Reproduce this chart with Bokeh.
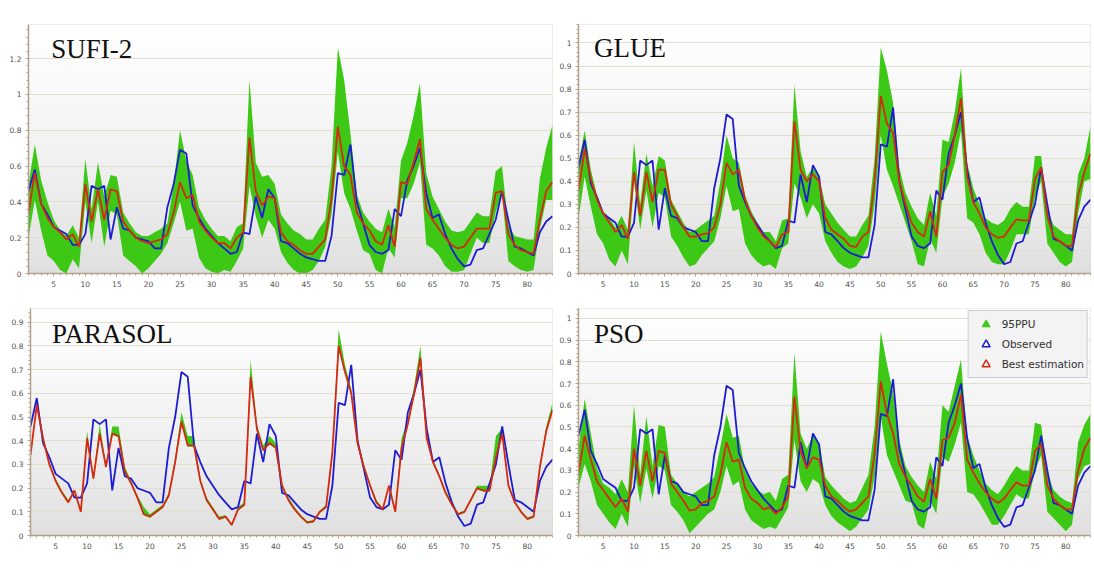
import numpy as np
from bokeh.plotting import figure
from bokeh.models import (FixedTicker, CustomJSTickFormatter, Label, Legend,
                          LegendItem, Range1d)
from bokeh.layouts import column, row
from bokeh.embed import file_html
from bokeh.resources import INLINE

steps = list(range(1, 85))
x_ticks = [5, 10, 15, 20, 25, 30, 35, 40, 45, 50, 55, 60, 65, 70, 75, 80]

observed = [0.46, 0.58, 0.39, 0.33, 0.26, 0.24, 0.22, 0.16, 0.16, 0.22,
            0.49, 0.47, 0.49, 0.19, 0.37, 0.25, 0.24, 0.20, 0.19, 0.18,
            0.14, 0.14, 0.37, 0.50, 0.69, 0.67, 0.38, 0.31, 0.25, 0.21,
            0.17, 0.14, 0.11, 0.12, 0.23, 0.22, 0.43, 0.31, 0.47, 0.42,
            0.18, 0.17, 0.14, 0.11, 0.09, 0.08, 0.07, 0.07, 0.21, 0.56,
            0.55, 0.72, 0.40, 0.28, 0.16, 0.12, 0.11, 0.13, 0.36, 0.32,
            0.52, 0.60, 0.70, 0.45, 0.31, 0.33, 0.22, 0.14, 0.08, 0.04,
            0.05, 0.13, 0.14, 0.22, 0.30, 0.46, 0.30, 0.15, 0.14, 0.12,
            0.10, 0.23, 0.29, 0.32]

# ---------------- SUFI-2 ----------------
sufi_best = [0.34, 0.56, 0.39, 0.31, 0.26, 0.23, 0.19, 0.22, 0.15, 0.50,
             0.29, 0.47, 0.30, 0.47, 0.46, 0.29, 0.24, 0.20, 0.18, 0.17,
             0.18, 0.19, 0.22, 0.34, 0.51, 0.42, 0.44, 0.29, 0.24, 0.20,
             0.17, 0.17, 0.14, 0.20, 0.23, 0.76, 0.46, 0.38, 0.43, 0.42,
             0.23, 0.18, 0.16, 0.13, 0.11, 0.11, 0.15, 0.19, 0.42, 0.82,
             0.60, 0.55, 0.34, 0.28, 0.24, 0.18, 0.16, 0.27, 0.15, 0.51,
             0.50, 0.62, 0.75, 0.36, 0.30, 0.25, 0.20, 0.16, 0.14, 0.15,
             0.20, 0.25, 0.25, 0.25, 0.45, 0.46, 0.22, 0.16, 0.13, 0.12,
             0.11, 0.30, 0.46, 0.51]
sufi_up = [0.50, 0.72, 0.52, 0.40, 0.30, 0.24, 0.21, 0.27, 0.20, 0.64,
           0.36, 0.62, 0.43, 0.55, 0.54, 0.34, 0.28, 0.23, 0.21, 0.21,
           0.23, 0.25, 0.28, 0.50, 0.80, 0.63, 0.55, 0.37, 0.30, 0.25,
           0.21, 0.21, 0.18, 0.26, 0.28, 1.08, 0.62, 0.54, 0.55, 0.50,
           0.33, 0.28, 0.24, 0.22, 0.19, 0.19, 0.25, 0.30, 0.60, 1.26,
           1.08, 0.78, 0.44, 0.34, 0.29, 0.25, 0.23, 0.36, 0.26, 0.63,
           0.73, 0.88, 1.06, 0.56, 0.43, 0.36, 0.29, 0.24, 0.23, 0.24,
           0.29, 0.34, 0.32, 0.32, 0.57, 0.60, 0.27, 0.21, 0.20, 0.19,
           0.19, 0.53, 0.70, 0.83]
sufi_low = [0.20, 0.41, 0.24, 0.10, 0.07, 0.02, 0.00, 0.08, 0.03, 0.40,
            0.17, 0.40, 0.15, 0.35, 0.33, 0.10, 0.07, 0.04, 0.00, 0.03,
            0.07, 0.11, 0.17, 0.28, 0.40, 0.24, 0.25, 0.09, 0.03, 0.01,
            0.00, 0.02, 0.01, 0.07, 0.14, 0.49, 0.32, 0.20, 0.30, 0.25,
            0.12, 0.06, 0.02, 0.00, 0.00, 0.02, 0.07, 0.15, 0.33, 0.68,
            0.45, 0.36, 0.24, 0.13, 0.11, 0.02, 0.00, 0.14, 0.09, 0.42,
            0.42, 0.50, 0.62, 0.16, 0.14, 0.10, 0.04, 0.01, 0.01, 0.02,
            0.11, 0.20, 0.17, 0.17, 0.34, 0.45, 0.07, 0.04, 0.02, 0.01,
            0.02, 0.25, 0.41, 0.41]
sufi_yticks = [0, 0.2, 0.4, 0.6, 0.8, 1.0, 1.2]

# ---------------- GLUE ----------------
glue_best = [0.36, 0.54, 0.41, 0.32, 0.26, 0.22, 0.18, 0.21, 0.15, 0.44,
             0.25, 0.44, 0.31, 0.45, 0.45, 0.30, 0.25, 0.20, 0.16, 0.16,
             0.17, 0.175, 0.20, 0.30, 0.48, 0.43, 0.45, 0.32, 0.25, 0.20,
             0.16, 0.14, 0.115, 0.17, 0.18, 0.66, 0.45, 0.40, 0.43, 0.40,
             0.24, 0.19, 0.17, 0.15, 0.12, 0.115, 0.16, 0.18, 0.40, 0.77,
             0.65, 0.61, 0.40, 0.30, 0.22, 0.18, 0.16, 0.27, 0.16, 0.44,
             0.47, 0.60, 0.76, 0.42, 0.31, 0.26, 0.20, 0.17, 0.155, 0.16,
             0.20, 0.235, 0.23, 0.23, 0.41, 0.46, 0.25, 0.16, 0.14, 0.12,
             0.12, 0.34, 0.44, 0.52]
glue_up = [0.48, 0.62, 0.45, 0.34, 0.27, 0.24, 0.20, 0.25, 0.19, 0.57,
           0.30, 0.52, 0.38, 0.51, 0.49, 0.32, 0.27, 0.22, 0.18, 0.19,
           0.21, 0.23, 0.25, 0.40, 0.60, 0.50, 0.48, 0.34, 0.27, 0.22,
           0.18, 0.18, 0.14, 0.23, 0.24, 0.82, 0.53, 0.42, 0.46, 0.42,
           0.30, 0.26, 0.22, 0.19, 0.16, 0.16, 0.21, 0.25, 0.50, 0.98,
           0.88, 0.74, 0.46, 0.35, 0.29, 0.24, 0.21, 0.35, 0.25, 0.58,
           0.57, 0.70, 0.89, 0.48, 0.37, 0.30, 0.24, 0.22, 0.21, 0.23,
           0.28, 0.31, 0.29, 0.29, 0.51, 0.51, 0.28, 0.21, 0.19, 0.17,
           0.17, 0.43, 0.50, 0.64]
glue_low = [0.24, 0.42, 0.29, 0.17, 0.13, 0.06, 0.03, 0.10, 0.04, 0.40,
            0.19, 0.36, 0.20, 0.35, 0.33, 0.16, 0.12, 0.07, 0.03, 0.04,
            0.08, 0.11, 0.14, 0.24, 0.38, 0.27, 0.28, 0.13, 0.08, 0.05,
            0.03, 0.04, 0.02, 0.11, 0.13, 0.39, 0.33, 0.24, 0.30, 0.26,
            0.14, 0.09, 0.05, 0.03, 0.02, 0.03, 0.07, 0.12, 0.30, 0.60,
            0.45, 0.38, 0.30, 0.22, 0.14, 0.04, 0.03, 0.15, 0.09, 0.33,
            0.39, 0.48, 0.62, 0.24, 0.22, 0.17, 0.09, 0.05, 0.04, 0.04,
            0.10, 0.17, 0.17, 0.17, 0.33, 0.40, 0.13, 0.09, 0.05, 0.03,
            0.05, 0.26, 0.40, 0.41]
glue_yticks = [0, 0.1, 0.2, 0.3, 0.4, 0.5, 0.6, 0.7, 0.8, 0.9, 1.0]

# ---------------- PARASOL ----------------
parasol_best = [0.34, 0.55, 0.41, 0.30, 0.23, 0.18, 0.14, 0.19, 0.10, 0.41,
                0.24, 0.43, 0.29, 0.43, 0.42, 0.27, 0.22, 0.16, 0.09, 0.08,
                0.10, 0.12, 0.17, 0.31, 0.48, 0.38, 0.38, 0.23, 0.15, 0.11,
                0.07, 0.08, 0.045, 0.11, 0.13, 0.67, 0.45, 0.36, 0.39, 0.37,
                0.21, 0.15, 0.11, 0.08, 0.055, 0.06, 0.10, 0.12, 0.35, 0.80,
                0.69, 0.60, 0.39, 0.29, 0.21, 0.14, 0.11, 0.21, 0.10, 0.37,
                0.47, 0.60, 0.75, 0.41, 0.31, 0.25, 0.18, 0.13, 0.09, 0.10,
                0.15, 0.20, 0.19, 0.19, 0.33, 0.43, 0.21, 0.14, 0.10, 0.07,
                0.08, 0.29, 0.44, 0.53]
parasol_up = [0.35, 0.56, 0.42, 0.31, 0.24, 0.19, 0.15, 0.19, 0.11, 0.44,
              0.25, 0.47, 0.30, 0.46, 0.46, 0.29, 0.23, 0.17, 0.12, 0.09,
              0.11, 0.13, 0.18, 0.33, 0.52, 0.42, 0.42, 0.24, 0.16, 0.12,
              0.08, 0.085, 0.05, 0.12, 0.14, 0.74, 0.47, 0.38, 0.42, 0.39,
              0.22, 0.16, 0.12, 0.085, 0.06, 0.065, 0.105, 0.13, 0.37, 0.87,
              0.72, 0.62, 0.40, 0.30, 0.22, 0.15, 0.115, 0.215, 0.11, 0.41,
              0.49, 0.63, 0.80, 0.42, 0.32, 0.26, 0.19, 0.14, 0.095, 0.105,
              0.155, 0.21, 0.21, 0.21, 0.42, 0.45, 0.22, 0.145, 0.105, 0.075,
              0.085, 0.30, 0.46, 0.56]
parasol_low = [0.335, 0.545, 0.405, 0.295, 0.225, 0.175, 0.135, 0.185, 0.095, 0.405,
               0.235, 0.425, 0.285, 0.425, 0.415, 0.265, 0.215, 0.155, 0.085, 0.075,
               0.095, 0.115, 0.165, 0.305, 0.475, 0.375, 0.375, 0.225, 0.145, 0.105,
               0.065, 0.075, 0.04, 0.105, 0.125, 0.665, 0.445, 0.355, 0.385, 0.365,
               0.205, 0.145, 0.105, 0.075, 0.05, 0.055, 0.095, 0.115, 0.345, 0.795,
               0.685, 0.595, 0.385, 0.285, 0.205, 0.135, 0.105, 0.205, 0.095, 0.365,
               0.465, 0.595, 0.745, 0.405, 0.305, 0.245, 0.175, 0.125, 0.085, 0.095,
               0.145, 0.195, 0.185, 0.185, 0.325, 0.425, 0.205, 0.135, 0.095, 0.065,
               0.075, 0.285, 0.435, 0.525]
parasol_yticks = [0, 0.1, 0.2, 0.3, 0.4, 0.5, 0.6, 0.7, 0.8, 0.9]

# ---------------- PSO ----------------
pso_best = [0.29, 0.46, 0.35, 0.25, 0.21, 0.17, 0.13, 0.17, 0.11, 0.40,
            0.23, 0.39, 0.25, 0.39, 0.38, 0.24, 0.20, 0.16, 0.115, 0.12,
            0.15, 0.16, 0.18, 0.28, 0.43, 0.34, 0.35, 0.22, 0.17, 0.15,
            0.12, 0.13, 0.10, 0.13, 0.18, 0.64, 0.39, 0.31, 0.36, 0.35,
            0.23, 0.18, 0.16, 0.13, 0.11, 0.12, 0.15, 0.18, 0.38, 0.71,
            0.56, 0.47, 0.33, 0.27, 0.23, 0.18, 0.155, 0.26, 0.17, 0.44,
            0.45, 0.52, 0.65, 0.35, 0.29, 0.24, 0.20, 0.17, 0.15, 0.17,
            0.21, 0.245, 0.23, 0.23, 0.39, 0.42, 0.23, 0.17, 0.14, 0.12,
            0.12, 0.30, 0.40, 0.45]
pso_up = [0.40, 0.63, 0.47, 0.31, 0.24, 0.22, 0.19, 0.26, 0.20, 0.60,
          0.28, 0.55, 0.32, 0.51, 0.50, 0.28, 0.24, 0.20, 0.18, 0.20,
          0.22, 0.24, 0.27, 0.41, 0.56, 0.45, 0.46, 0.30, 0.24, 0.21,
          0.19, 0.20, 0.16, 0.26, 0.28, 0.84, 0.47, 0.40, 0.46, 0.43,
          0.27, 0.23, 0.20, 0.17, 0.15, 0.16, 0.22, 0.28, 0.50, 0.94,
          0.79, 0.66, 0.44, 0.32, 0.27, 0.23, 0.20, 0.34, 0.26, 0.60,
          0.57, 0.69, 0.81, 0.46, 0.37, 0.30, 0.24, 0.21, 0.19, 0.23,
          0.28, 0.32, 0.30, 0.30, 0.52, 0.51, 0.29, 0.21, 0.18, 0.16,
          0.15, 0.43, 0.51, 0.56]
pso_low = [0.22, 0.33, 0.25, 0.14, 0.10, 0.06, 0.03, 0.10, 0.04, 0.32,
           0.15, 0.31, 0.17, 0.32, 0.30, 0.14, 0.11, 0.07, 0.01, 0.04,
           0.07, 0.10, 0.12, 0.20, 0.32, 0.23, 0.25, 0.12, 0.07, 0.05,
           0.03, 0.04, 0.03, 0.08, 0.13, 0.44, 0.25, 0.20, 0.26, 0.24,
           0.14, 0.09, 0.06, 0.04, 0.02, 0.04, 0.08, 0.12, 0.27, 0.55,
           0.37, 0.30, 0.23, 0.16, 0.15, 0.05, 0.03, 0.16, 0.10, 0.36,
           0.34, 0.42, 0.52, 0.20, 0.19, 0.15, 0.10, 0.05, 0.05, 0.09,
           0.14, 0.19, 0.17, 0.17, 0.30, 0.37, 0.11, 0.08, 0.05, 0.02,
           0.05, 0.26, 0.32, 0.33]
pso_yticks = [0, 0.1, 0.2, 0.3, 0.4, 0.5, 0.6, 0.7, 0.8, 0.9, 1.0]

legend_labels = ["95PPU", "Observed", "Best estimation"]

BAND = "#3cc814"
BLUE = "#1c1cd2"
RED = "#d42a12"
AXIS = "#b3a08a"
GRID = "#e3ded2"


def make_panel(title, best, low, up, ymax, yticks, minor_step,
               width, height, bl, br, bt, bb, tx, ty, legend=False):
    p = figure(width=width, height=height,
               x_range=Range1d(steps[0], steps[-1]), y_range=Range1d(0, ymax),
               output_backend="svg", toolbar_location=None,
               min_border_left=bl, min_border_right=br,
               min_border_top=bt, min_border_bottom=bb,
               background_fill_color="white", border_fill_color="white")
    # vertical gradient background (white -> light grey)
    n = 40
    edges = np.linspace(0, ymax, n + 1)
    cols = []
    for i in range(n):
        t = (i + 0.5) / n
        g = int(round(222 + (255 - 222) * (t ** 0.75)))
        cols.append("#%02x%02x%02x" % (g, g, g))
    p.quad(left=steps[0], right=steps[-1], bottom=edges[:-1], top=edges[1:],
           fill_color=cols, line_color=cols, line_width=1, level="image")

    p.varea(x=steps, y1=low, y2=up, fill_color=BAND, fill_alpha=1.0)
    p.line(steps, observed, line_color=BLUE, line_width=1.8)
    p.line(steps, best, line_color=RED, line_width=1.8)

    p.xgrid.visible = False
    p.ygrid.grid_line_color = GRID
    p.ygrid.grid_line_width = 1
    p.ygrid.ticker = FixedTicker(ticks=yticks)

    p.xaxis.ticker = FixedTicker(ticks=x_ticks, minor_ticks=steps)
    mt = list(np.round(np.arange(0, ymax + 1e-9, minor_step), 4))
    p.yaxis.ticker = FixedTicker(ticks=yticks, minor_ticks=mt)
    p.yaxis.formatter = CustomJSTickFormatter(code="return String(+tick.toFixed(2));")
    for ax in (p.xaxis[0], p.yaxis[0]):
        ax.axis_line_color = AXIS
        ax.axis_line_width = 1.5
        ax.major_tick_line_color = AXIS
        ax.minor_tick_line_color = AXIS
        ax.major_tick_in = 0
        ax.major_tick_out = 3
        ax.minor_tick_in = 0
        ax.minor_tick_out = 2
        ax.major_label_text_font = "DejaVu Sans"
        ax.major_label_text_font_size = "7.5px"
        ax.major_label_text_color = "#505050"
        ax.major_label_standoff = 4
    p.outline_line_color = "#d6cfc2"
    p.outline_line_width = 1

    p.add_layout(Label(x=tx, y=ty, text=title, text_font="Liberation Serif",
                       text_font_size="27px", text_color="#111111",
                       text_baseline="middle", text_align="left"))

    if legend:
        nan = [float("nan")]
        r0 = p.scatter(x=nan, y=nan, marker="triangle", size=16,
                       fill_color=BAND, line_color=BAND)
        r1 = p.scatter(x=nan, y=nan, marker="triangle", size=16,
                       fill_alpha=0, line_color=BLUE, line_width=1.5)
        r2 = p.scatter(x=nan, y=nan, marker="triangle", size=16,
                       fill_alpha=0, line_color=RED, line_width=1.5)
        lg = Legend(items=[LegendItem(label=legend_labels[0], renderers=[r0]),
                           LegendItem(label=legend_labels[1], renderers=[r1]),
                           LegendItem(label=legend_labels[2], renderers=[r2])],
                    location="top_right")
        lg.label_text_font = "DejaVu Sans"
        lg.label_text_font_size = "10.5px"
        lg.label_text_color = "#303030"
        lg.background_fill_color = "#f3f3f3"
        lg.background_fill_alpha = 1.0
        lg.border_line_color = "#a8a8a8"
        lg.border_line_width = 1
        lg.glyph_width = 28
        lg.glyph_height = 20
        lg.label_height = 19
        lg.spacing = 0
        lg.padding = 3
        lg.margin = 2
        lg.label_standoff = 2
        p.add_layout(lg)
    return p


p1 = make_panel("SUFI-2", sufi_best, sufi_low, sufi_up, 1.39, sufi_yticks, 0.04,
                556, 300, 28, 4, 22, 27, 4.6, 1.256)
p2 = make_panel("GLUE", glue_best, glue_low, glue_up, 1.08, glue_yticks, 0.02,
                536, 300, 16, 2, 24, 26, 3.5, 0.978)
p3 = make_panel("PARASOL", parasol_best, parasol_low, parasol_up, 0.958, parasol_yticks, 0.02,
                556, 278, 30, 4, 8, 43, 4.4, 0.85)
p4 = make_panel("PSO", pso_best, pso_low, pso_up, 1.046, pso_yticks, 0.02,
                536, 278, 16, 2, 8, 42, 3.5, 0.927, legend=True)

layout = column(row(p1, p2, spacing=0), row(p3, p4, spacing=0), spacing=0)

open("out.html", "w").write(file_html(layout, INLINE))
